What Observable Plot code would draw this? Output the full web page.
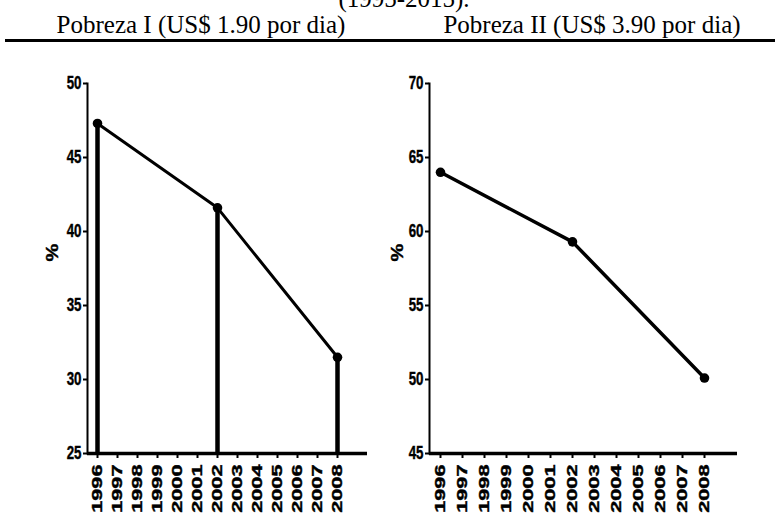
<!DOCTYPE html>
<html><head><meta charset="utf-8">
<script src="https://cdn.jsdelivr.net/npm/d3@7"></script>
<script src="https://cdn.jsdelivr.net/npm/@observablehq/plot@0.6"></script>
<style>
html,body{margin:0;padding:0;background:#fff;}
body{width:780px;height:520px;position:relative;overflow:hidden;}
.t{position:absolute;font-family:"Liberation Serif","Times New Roman",serif;font-size:25px;line-height:25px;color:#000;white-space:nowrap;transform:translateX(-50%);}
#rule{position:absolute;left:5px;width:770px;top:39px;height:3px;background:#000;}
.p{position:absolute;top:60px;}
</style></head><body>
<div class="t" style="left:404px;top:-14px">(1995-2015).</div>
<div class="t" style="left:201px;top:12px">Pobreza I (US$ 1.90 por dia)</div>
<div class="t" style="left:592px;top:12px">Pobreza II (US$ 3.90 por dia)</div>
<div id="rule"></div>
<div class="p" id="left" style="left:0px"></div>
<div class="p" id="right" style="left:390px"></div>
<script>
const years = [1996, 2002, 2008];
const pobrezaI = [47.3, 41.6, 31.5];
const pobrezaII = [64.0, 59.3, 50.1];
const yearTicks = [1996, 1997, 1998, 1999, 2000, 2001, 2002, 2003, 2004, 2005, 2006, 2007, 2008];
const ticksI = [25, 30, 35, 40, 45, 50];
const ticksII = [45, 50, 55, 60, 65, 70];
const yLabel = "%";

function panel(values, yTicks, o) {
  const data = years.map((year, i) => ({year, value: values[i]}));
  const base = yTicks[0];
  const marks = [];
  if (o.bars) marks.push(Plot.ruleX(data, {x: "year", y1: () => base, y2: "value", strokeWidth: 4.5}));
  marks.push(
    Plot.axisY({ticks: yTicks, tickSize: 4, tickPadding: 2, strokeWidth: 2, fontSize: 18, fontWeight: "bold", label: null}),
    Plot.axisX({ticks: yearTicks, tickSize: 5, tickPadding: 6, tickRotate: -90, tickFormat: d => String(d), strokeWidth: 2, fontSize: 14, fontWeight: "bold", label: null}),
    Plot.ruleY([base], {strokeWidth: 3.5}),
    Plot.frame({anchor: "left", strokeWidth: 2}),
    Plot.line(data, {x: "year", y: "value", strokeWidth: o.lw}),
    Plot.dot(data, {x: "year", y: "value", r: 4.8, fill: "black", stroke: "none"}),
    Plot.text([yLabel], {text: d => d, frameAnchor: "left", dx: -o.labelOff, dy: -7, rotate: -90, fontSize: 16, fontWeight: "bold"})
  );
  const svg = Plot.plot({
    width: 390, height: 460,
    marginLeft: o.ml, marginRight: o.mr, marginTop: 23, marginBottom: 67,
    x: {domain: [1995.5, 2009.5], label: null},
    y: {domain: [yTicks[0], yTicks[yTicks.length - 1]], label: null},
    style: {fontFamily: "'Liberation Sans', Arial, sans-serif", color: "black", background: "white", overflow: "visible"},
    marks
  });
  const stretch = (sel, s) => svg.querySelectorAll(sel).forEach(el => {
    const t = el.getAttribute("transform") || "";
    el.setAttribute("transform", t + " " + s);
    el.style.stroke = "black";
    el.style.strokeWidth = "0.4px";
  });
  stretch('g[aria-label="x-axis tick label"] text', "scale(1.55,1)");
  stretch('g[aria-label="y-axis tick label"] text', "scale(0.74,1)");
  stretch('g[aria-label="text"] text', "scale(1.25,1)");
  return svg;
}

document.getElementById("left").append(panel(pobrezaI, ticksI, {bars: true, ml: 87, mr: 23, labelOff: 35, lw: 3}));
document.getElementById("right").append(panel(pobrezaII, ticksII, {bars: false, ml: 39, mr: 43, labelOff: 32, lw: 3.5}));
</script>
</body></html>
